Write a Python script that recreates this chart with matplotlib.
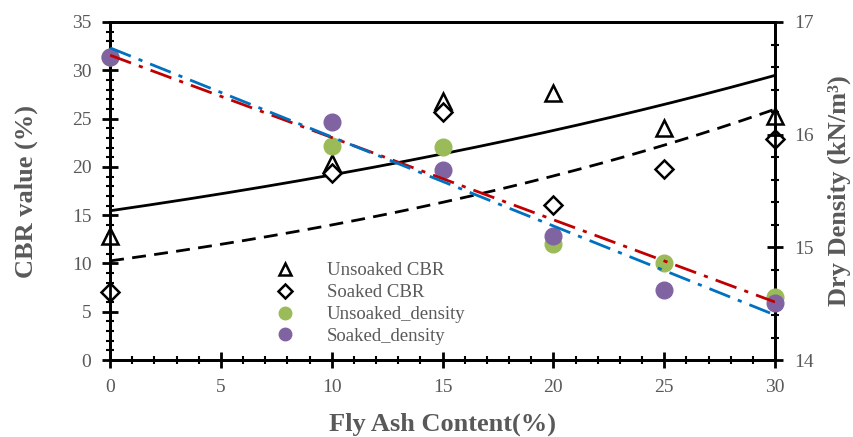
import numpy as np
import matplotlib.pyplot as plt
from matplotlib.ticker import MultipleLocator

# fly ash content (%)
fly_ash = [0, 10, 15, 20, 25, 30]

# CBR values (%)
unsoaked_cbr = [12.8, 20.4, 26.8, 27.6, 24.0, 25.3]
soaked_cbr = [7.1, 19.4, 25.7, 16.1, 19.8, 22.9]

# dry density (kN/m3)
unsoaked_density = [16.69, 15.90, 15.89, 15.03, 14.86, 14.56]
soaked_density = [16.69, 16.11, 15.69, 15.10, 14.62, 14.51]

gray = '#595959'
plt.rcParams.update({
    'font.family': 'Liberation Serif',
    'font.size': 14,
    'axes.linewidth': 2,
})

x = np.array(fly_ash, dtype=float)
xs = np.linspace(0, 30, 200)

fig, ax = plt.subplots(figsize=(8.54, 4.37), dpi=100)
fig.subplots_adjust(left=0.129, right=0.9075, bottom=0.176, top=0.9497)
ax2 = ax.twinx()

# exponential trendlines for CBR (like excel)
b1, a1 = np.polyfit(x, np.log(unsoaked_cbr), 1)
b2, a2 = np.polyfit(x, np.log(soaked_cbr), 1)
ax.plot(xs, np.exp(a1) * np.exp(b1 * xs), color='black', lw=2)
ax.plot(xs, np.exp(a2) * np.exp(b2 * xs), color='black', lw=2, ls=(0, (5, 3)))

ax.plot(fly_ash, unsoaked_cbr, ls='none', marker='^', ms=12, mfc='white', mec='black',
        mew=1.8, clip_on=False, zorder=5, label='Unsoaked CBR')
ax.plot(fly_ash, soaked_cbr, ls='none', marker='D', ms=9, mfc='white', mec='black',
        mew=1.8, clip_on=False, zorder=5, label='Soaked CBR')

# linear trendlines for density
m1, c1 = np.polyfit(x, unsoaked_density, 1)
m2, c2 = np.polyfit(x, soaked_density, 1)

ax2.plot(fly_ash, unsoaked_density, ls='none', marker='o', ms=12, color='#9BBB59',
         clip_on=False, zorder=3, label='Unsoaked_density')
ax2.plot(fly_ash, soaked_density, ls='none', marker='o', ms=12, color='#8064A2',
         clip_on=False, zorder=3, label='Soaked_density')
ax2.plot(xs, m1 * xs + c1, color='#C00000', lw=2, ls=(0, (8, 3, 1.5, 3)), zorder=4)
ax2.plot(xs, m2 * xs + c2, color='#0070C0', lw=2, ls=(0, (8, 3, 1.5, 3)), zorder=4)

ax.set_xlim(0, 30)
ax.set_ylim(0, 35)
ax2.set_ylim(14, 17)

ax.xaxis.set_major_locator(MultipleLocator(5))
ax.xaxis.set_minor_locator(MultipleLocator(1))
ax.yaxis.set_major_locator(MultipleLocator(5))
ax.yaxis.set_minor_locator(MultipleLocator(1))
ax2.yaxis.set_major_locator(MultipleLocator(1))
ax2.yaxis.set_minor_locator(MultipleLocator(0.2))

for a in (ax, ax2):
    a.tick_params(which='major', direction='inout', length=11, width=2, colors='black',
                  labelcolor=gray, labelsize=14, pad=8)
    a.tick_params(which='minor', direction='inout', length=6, width=1.5, colors='black')
ax.tick_params(axis='x', which='both', top=False)
ax.tick_params(axis='y', which='both', right=False)

ax.set_xlabel('Fly Ash Content(%)', fontsize=19, fontweight='bold', color=gray, labelpad=12)
ax.set_ylabel('CBR value (%)', fontsize=19, fontweight='bold', color=gray, labelpad=24)
ax2.set_ylabel('Dry Density (kN/m³)', fontsize=19, fontweight='bold', color=gray,
               labelpad=10)

h1, l1 = ax.get_legend_handles_labels()
h2, l2 = ax2.get_legend_handles_labels()
leg = ax2.legend(h1 + h2, l1 + l2, loc='lower left', bbox_to_anchor=(0.21, -0.005),
                 frameon=False, fontsize=13.5, handletextpad=1.2, labelspacing=0.25,
                 markerscale=0.75)
for t in leg.get_texts():
    t.set_color(gray)

fig.savefig('out.png', dpi=100)
